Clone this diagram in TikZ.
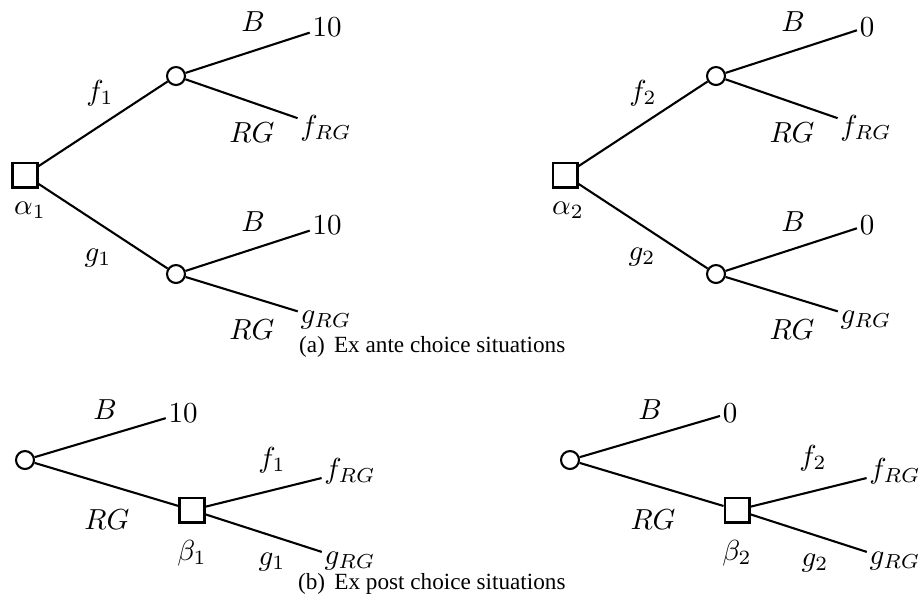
\documentclass[tikz,border=0pt]{standalone}
\usepackage[no-math]{fontspec}
\setmainfont{Liberation Serif}
\begin{document}
\begin{tikzpicture}[x=0.345pt,y=-0.345pt,
  every path/.style={line width=0.72pt},
  chance/.style={circle,draw,fill=white,line width=0.72pt,minimum size=6.2pt,inner sep=0pt},
  decision/.style={rectangle,draw,fill=white,line width=0.72pt,minimum size=8.6pt,inner sep=0pt},
  leaf/.style={inner sep=0.6pt},
  lbl/.style={inner sep=0pt},
  captext/.style={inner sep=0pt,anchor=base west,font=\fontsize{8pt}{9pt}\selectfont}]
\useasboundingbox (0,0) rectangle (922,594);

% ---------- (a) left ----------
\node[decision] (a1) at (25,175) {};
\node[chance] (a1u) at (176,76) {};
\node[chance] (a1d) at (176,274) {};
\node[leaf] (a1uB) at (327,27) {$10$};
\node[leaf] (a1uR) at (326,128) {$f_{RG}$};
\node[leaf] (a1dB) at (327,225) {$10$};
\node[leaf] (a1dR) at (326,320) {$g_{RG}$};
\draw (a1) -- (a1u);
\draw (a1) -- (a1d);
\draw (a1u) -- (a1uB);
\draw (a1u) -- (a1uR);
\draw (a1d) -- (a1dB);
\draw (a1d) -- (a1dR);
\node[lbl] (a1f) at (100,93) {$f_1$};
\node[lbl] (a1g) at (98,258) {$g_1$};
\node[lbl] (a1al) at (30,210) {$\alpha_1$};
\node[lbl] (a1b1) at (253,22) {$B$};
\node[lbl] (a1r1) at (252,133) {$RG$};
\node[lbl] (a1b2) at (253,222) {$B$};
\node[lbl] (a1r2) at (252,330) {$RG$};

% ---------- (a) right ----------
\begin{scope}[shift={(540,0)}]
\node[decision] (a2) at (25,175) {};
\node[chance] (a2u) at (176,76) {};
\node[chance] (a2d) at (176,274) {};
\node[leaf] (a2uB) at (327,27) {$0$};
\node[leaf] (a2uR) at (326,128) {$f_{RG}$};
\node[leaf] (a2dB) at (327,225) {$0$};
\node[leaf] (a2dR) at (326,320) {$g_{RG}$};
\draw (a2) -- (a2u);
\draw (a2) -- (a2d);
\draw (a2u) -- (a2uB);
\draw (a2u) -- (a2uR);
\draw (a2d) -- (a2dB);
\draw (a2d) -- (a2dR);
\node[lbl] (a2f) at (103,93) {$f_2$};
\node[lbl] (a2g) at (102,257) {$g_2$};
\node[lbl] (a2al) at (28,210) {$\alpha_2$};
\node[lbl] (a2b1) at (253,22) {$B$};
\node[lbl] (a2r1) at (252,133) {$RG$};
\node[lbl] (a2b2) at (253,222) {$B$};
\node[lbl] (a2r2) at (252,330) {$RG$};
\end{scope}

\node[captext] (capa) at (298,352) {(a)\hspace{3.2pt}Ex ante choice situations};

% ---------- (b) left ----------
\node[chance] (b1c) at (25,460) {};
\node[decision] (b1) at (192,510) {};
\node[leaf] (b1B) at (183,413) {$10$};
\node[leaf] (b1f) at (350,471) {$f_{RG}$};
\node[leaf] (b1g) at (350,561) {$g_{RG}$};
\draw (b1c) -- (b1B);
\draw (b1c) -- (b1);
\draw (b1) -- (b1f);
\draw (b1) -- (b1g);
\node[lbl] (b1lB) at (105,410) {$B$};
\node[lbl] (b1lR) at (107,520) {$RG$};
\node[lbl] (b1lf) at (272,460) {$f_1$};
\node[lbl] (b1lg) at (272,562) {$g_1$};
\node[lbl] (b1be) at (192,553) {$\beta_1$};

% ---------- (b) right ----------
\begin{scope}[shift={(545,0)}]
\node[chance] (b2c) at (25,460) {};
\node[decision] (b2) at (192,510) {};
\node[leaf] (b2B) at (185,413) {$0$};
\node[leaf] (b2f) at (350,471) {$f_{RG}$};
\node[leaf] (b2g) at (350,561) {$g_{RG}$};
\draw (b2c) -- (b2B);
\draw (b2c) -- (b2);
\draw (b2) -- (b2f);
\draw (b2) -- (b2g);
\node[lbl] (b2lB) at (105,410) {$B$};
\node[lbl] (b2lR) at (108,520) {$RG$};
\node[lbl] (b2lf) at (268,458) {$f_2$};
\node[lbl] (b2lg) at (270,563) {$g_2$};
\node[lbl] (b2be) at (192,553) {$\beta_2$};
\end{scope}

\node[captext] (capb) at (297,589) {(b)\hspace{3.2pt}Ex post choice situations};
\end{tikzpicture}
\end{document}
